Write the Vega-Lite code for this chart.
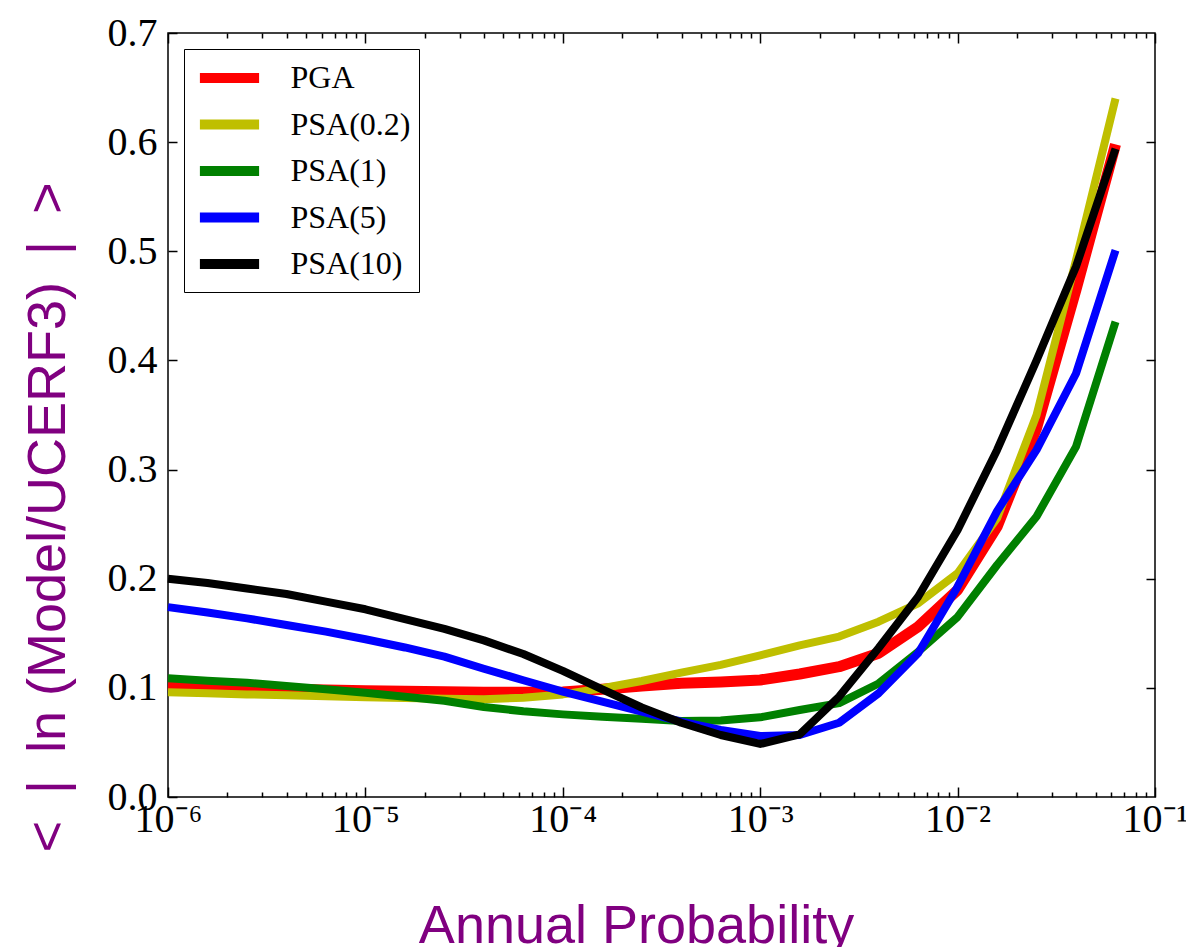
{
  "$schema": "https://vega.github.io/schema/vega-lite/v6.json",
  "width": 987,
  "height": 764,
  "autosize": "none",
  "padding": {"left": 168, "top": 33, "right": 31, "bottom": 150},
  "background": "white",
  "config": {
    "view": {"stroke": "black", "strokeWidth": 1.5},
    "axis": {"grid": false, "domain": false, "tickColor": "black", "tickWidth": 1.5}
  },
  "data": {
    "values": [
      {"p": 1e-6, "s": "PGA", "v": 0.1026}, {"p": 1.585e-6, "s": "PGA", "v": 0.101}, {"p": 2.512e-6, "s": "PGA", "v": 0.0996}, {"p": 3.981e-6, "s": "PGA", "v": 0.0987}, {"p": 6.31e-6, "s": "PGA", "v": 0.098},
      {"p": 1e-5, "s": "PGA", "v": 0.0974}, {"p": 1.585e-5, "s": "PGA", "v": 0.0968}, {"p": 2.512e-5, "s": "PGA", "v": 0.0965}, {"p": 3.981e-5, "s": "PGA", "v": 0.096}, {"p": 6.31e-5, "s": "PGA", "v": 0.096},
      {"p": 1e-4, "s": "PGA", "v": 0.0962}, {"p": 1.585e-4, "s": "PGA", "v": 0.0987}, {"p": 2.512e-4, "s": "PGA", "v": 0.1017}, {"p": 3.981e-4, "s": "PGA", "v": 0.1042}, {"p": 6.31e-4, "s": "PGA", "v": 0.1054},
      {"p": 1e-3, "s": "PGA", "v": 0.1072}, {"p": 1.585e-3, "s": "PGA", "v": 0.1127}, {"p": 2.512e-3, "s": "PGA", "v": 0.1194}, {"p": 3.981e-3, "s": "PGA", "v": 0.1317}, {"p": 6.31e-3, "s": "PGA", "v": 0.156},
      {"p": 1e-2, "s": "PGA", "v": 0.1897}, {"p": 1.585e-2, "s": "PGA", "v": 0.2477}, {"p": 2.512e-2, "s": "PGA", "v": 0.338}, {"p": 3.981e-2, "s": "PGA", "v": 0.465}, {"p": 6.31e-2, "s": "PGA", "v": 0.598},

      {"p": 1e-6, "s": "PSA(0.2)", "v": 0.096}, {"p": 1.585e-6, "s": "PSA(0.2)", "v": 0.095}, {"p": 2.512e-6, "s": "PSA(0.2)", "v": 0.094}, {"p": 3.981e-6, "s": "PSA(0.2)", "v": 0.0932}, {"p": 6.31e-6, "s": "PSA(0.2)", "v": 0.0922},
      {"p": 1e-5, "s": "PSA(0.2)", "v": 0.0913}, {"p": 1.585e-5, "s": "PSA(0.2)", "v": 0.0907}, {"p": 2.512e-5, "s": "PSA(0.2)", "v": 0.09}, {"p": 3.981e-5, "s": "PSA(0.2)", "v": 0.0895}, {"p": 6.31e-5, "s": "PSA(0.2)", "v": 0.091},
      {"p": 1e-4, "s": "PSA(0.2)", "v": 0.094}, {"p": 1.585e-4, "s": "PSA(0.2)", "v": 0.0996}, {"p": 2.512e-4, "s": "PSA(0.2)", "v": 0.1063}, {"p": 3.981e-4, "s": "PSA(0.2)", "v": 0.114}, {"p": 6.31e-4, "s": "PSA(0.2)", "v": 0.121},
      {"p": 1e-3, "s": "PSA(0.2)", "v": 0.1298}, {"p": 1.585e-3, "s": "PSA(0.2)", "v": 0.139}, {"p": 2.512e-3, "s": "PSA(0.2)", "v": 0.147}, {"p": 3.981e-3, "s": "PSA(0.2)", "v": 0.1606}, {"p": 6.31e-3, "s": "PSA(0.2)", "v": 0.1775},
      {"p": 1e-2, "s": "PSA(0.2)", "v": 0.205}, {"p": 1.585e-2, "s": "PSA(0.2)", "v": 0.2554}, {"p": 2.512e-2, "s": "PSA(0.2)", "v": 0.35}, {"p": 3.981e-2, "s": "PSA(0.2)", "v": 0.492}, {"p": 6.31e-2, "s": "PSA(0.2)", "v": 0.64},

      {"p": 1e-6, "s": "PSA(1)", "v": 0.1087}, {"p": 1.585e-6, "s": "PSA(1)", "v": 0.1066}, {"p": 2.512e-6, "s": "PSA(1)", "v": 0.1047}, {"p": 3.981e-6, "s": "PSA(1)", "v": 0.1017}, {"p": 6.31e-6, "s": "PSA(1)", "v": 0.0987},
      {"p": 1e-5, "s": "PSA(1)", "v": 0.0956}, {"p": 1.585e-5, "s": "PSA(1)", "v": 0.0919}, {"p": 2.512e-5, "s": "PSA(1)", "v": 0.0882}, {"p": 3.981e-5, "s": "PSA(1)", "v": 0.0825}, {"p": 6.31e-5, "s": "PSA(1)", "v": 0.0785},
      {"p": 1e-4, "s": "PSA(1)", "v": 0.0757}, {"p": 1.585e-4, "s": "PSA(1)", "v": 0.0736}, {"p": 2.512e-4, "s": "PSA(1)", "v": 0.0718}, {"p": 3.981e-4, "s": "PSA(1)", "v": 0.0697}, {"p": 6.31e-4, "s": "PSA(1)", "v": 0.07},
      {"p": 1e-3, "s": "PSA(1)", "v": 0.073}, {"p": 1.585e-3, "s": "PSA(1)", "v": 0.0797}, {"p": 2.512e-3, "s": "PSA(1)", "v": 0.086}, {"p": 3.981e-3, "s": "PSA(1)", "v": 0.104}, {"p": 6.31e-3, "s": "PSA(1)", "v": 0.133},
      {"p": 1e-2, "s": "PSA(1)", "v": 0.165}, {"p": 1.585e-2, "s": "PSA(1)", "v": 0.2126}, {"p": 2.512e-2, "s": "PSA(1)", "v": 0.257}, {"p": 3.981e-2, "s": "PSA(1)", "v": 0.321}, {"p": 6.31e-2, "s": "PSA(1)", "v": 0.4355},

      {"p": 1e-6, "s": "PSA(5)", "v": 0.174}, {"p": 1.585e-6, "s": "PSA(5)", "v": 0.169}, {"p": 2.512e-6, "s": "PSA(5)", "v": 0.1637}, {"p": 3.981e-6, "s": "PSA(5)", "v": 0.1576}, {"p": 6.31e-6, "s": "PSA(5)", "v": 0.1515},
      {"p": 1e-5, "s": "PSA(5)", "v": 0.1445}, {"p": 1.585e-5, "s": "PSA(5)", "v": 0.137}, {"p": 2.512e-5, "s": "PSA(5)", "v": 0.1286}, {"p": 3.981e-5, "s": "PSA(5)", "v": 0.1175}, {"p": 6.31e-5, "s": "PSA(5)", "v": 0.107},
      {"p": 1e-4, "s": "PSA(5)", "v": 0.0965}, {"p": 1.585e-4, "s": "PSA(5)", "v": 0.0873}, {"p": 2.512e-4, "s": "PSA(5)", "v": 0.0782}, {"p": 3.981e-4, "s": "PSA(5)", "v": 0.069}, {"p": 6.31e-4, "s": "PSA(5)", "v": 0.0614},
      {"p": 1e-3, "s": "PSA(5)", "v": 0.0559}, {"p": 1.585e-3, "s": "PSA(5)", "v": 0.0568}, {"p": 2.512e-3, "s": "PSA(5)", "v": 0.068}, {"p": 3.981e-3, "s": "PSA(5)", "v": 0.095}, {"p": 6.31e-3, "s": "PSA(5)", "v": 0.1317},
      {"p": 1e-2, "s": "PSA(5)", "v": 0.1927}, {"p": 1.585e-2, "s": "PSA(5)", "v": 0.262}, {"p": 2.512e-2, "s": "PSA(5)", "v": 0.318}, {"p": 3.981e-2, "s": "PSA(5)", "v": 0.388}, {"p": 6.31e-2, "s": "PSA(5)", "v": 0.501},

      {"p": 1e-6, "s": "PSA(10)", "v": 0.2}, {"p": 1.585e-6, "s": "PSA(10)", "v": 0.196}, {"p": 2.512e-6, "s": "PSA(10)", "v": 0.191}, {"p": 3.981e-6, "s": "PSA(10)", "v": 0.186}, {"p": 6.31e-6, "s": "PSA(10)", "v": 0.179},
      {"p": 1e-5, "s": "PSA(10)", "v": 0.172}, {"p": 1.585e-5, "s": "PSA(10)", "v": 0.163}, {"p": 2.512e-5, "s": "PSA(10)", "v": 0.154}, {"p": 3.981e-5, "s": "PSA(10)", "v": 0.1435}, {"p": 6.31e-5, "s": "PSA(10)", "v": 0.131},
      {"p": 1e-4, "s": "PSA(10)", "v": 0.1155}, {"p": 1.585e-4, "s": "PSA(10)", "v": 0.0987}, {"p": 2.512e-4, "s": "PSA(10)", "v": 0.082}, {"p": 3.981e-4, "s": "PSA(10)", "v": 0.068}, {"p": 6.31e-4, "s": "PSA(10)", "v": 0.0568},
      {"p": 1e-3, "s": "PSA(10)", "v": 0.0486}, {"p": 1.585e-3, "s": "PSA(10)", "v": 0.0574}, {"p": 2.512e-3, "s": "PSA(10)", "v": 0.092}, {"p": 3.981e-3, "s": "PSA(10)", "v": 0.1365}, {"p": 6.31e-3, "s": "PSA(10)", "v": 0.1835},
      {"p": 1e-2, "s": "PSA(10)", "v": 0.2446}, {"p": 1.585e-2, "s": "PSA(10)", "v": 0.318}, {"p": 2.512e-2, "s": "PSA(10)", "v": 0.4}, {"p": 3.981e-2, "s": "PSA(10)", "v": 0.486}, {"p": 6.31e-2, "s": "PSA(10)", "v": 0.594}
    ]
  },
  "layer": [
    {
      "mark": {"type": "line", "strokeJoin": "round", "strokeCap": "butt"},
      "encoding": {
        "x": {
          "field": "p", "type": "quantitative",
          "scale": {"type": "log", "domain": [1e-6, 0.1], "nice": false},
          "axis": {
            "orient": "bottom",
            "offset": -10,
            "values": [1e-6, 1e-5, 1e-4, 1e-3, 1e-2, 1e-1],
            "labelExpr": "'10⁻' + ['⁰','¹','²','³','⁴','⁵','⁶'][-round(log(datum.value)/LN10)]",
            "tickSize": 10,
            "labelFont": "Liberation Serif", "labelFontSize": 40, "labelColor": "black",
            "labelPadding": 2, "labelFlush": false, "labelOverlap": false, "labelBound": false,
            "title": "Annual Probability",
            "titleFont": "Liberation Sans", "titleFontSize": 54, "titleFontWeight": "normal", "titleColor": "#800080",
            "titleX": 468, "titleY": 155, "titleBaseline": "alphabetic", "titleAlign": "center"
          }
        },
        "y": {
          "field": "v", "type": "quantitative",
          "scale": {"domain": [0, 0.7], "nice": false, "zero": false},
          "axis": {
            "orient": "left",
            "offset": -9,
            "values": [0, 0.1, 0.2, 0.3, 0.4, 0.5, 0.6, 0.7],
            "format": ".1f",
            "tickSize": 9,
            "labelFont": "Liberation Serif", "labelFontSize": 40, "labelColor": "black",
            "labelPadding": 11, "labelFlush": false, "labelOverlap": false, "labelBound": false,
            "title": "<\u2002|\u2002ln (Model/UCERF3)\u2002|\u2002>",
            "titleFont": "Liberation Sans", "titleFontSize": 54, "titleFontWeight": "normal", "titleColor": "#800080",
            "titleX": -129, "titleY": 484, "titleBaseline": "middle", "titleAlign": "center", "titleAngle": -90
          }
        },
        "color": {
          "field": "s", "type": "nominal",
          "scale": {"domain": ["PGA", "PSA(0.2)", "PSA(1)", "PSA(5)", "PSA(10)"], "range": ["#ff0000", "#bfbf00", "#008000", "#0000ff", "#000000"]},
          "legend": {
            "title": null,
            "orient": "top-left",
            "offset": 16,
            "padding": 8,
            "strokeColor": "black",
            "fillColor": "white",
            "symbolType": "M-1.85,0H1.85",
            "symbolSize": 1024,
            "symbolStrokeWidth": 10,
            "symbolOffset": 16.5,
            "rowPadding": 5.5,
            "labelOffset": 40,
            "labelFont": "Liberation Serif", "labelFontSize": 32, "labelColor": "black"
          }
        },
        "strokeWidth": {"condition": {"test": "datum.s === 'PGA'", "value": 11}, "value": 8}
      }
    },
    {
      "mark": {"type": "line", "opacity": 0},
      "encoding": {
        "x": {
          "field": "p", "type": "quantitative",
          "scale": {"type": "log", "domain": [1e-6, 0.1], "nice": false},
          "axis": {"orient": "top", "offset": -10, "values": [1e-6, 1e-5, 1e-4, 1e-3, 1e-2, 1e-1], "labels": false, "tickSize": 10, "title": null}
        },
        "y": {
          "field": "v", "type": "quantitative",
          "scale": {"domain": [0, 0.7], "nice": false, "zero": false},
          "axis": {"orient": "right", "offset": -9, "values": [0.1, 0.2, 0.3, 0.4, 0.5, 0.6], "labels": false, "tickSize": 9, "title": null}
        },
        "detail": {"field": "s", "type": "nominal"}
      }
    },
    {
      "mark": {"type": "line", "opacity": 0},
      "encoding": {
        "x": {
          "field": "p", "type": "quantitative",
          "scale": {"type": "log", "domain": [1e-6, 0.1], "nice": false},
          "axis": {
            "orient": "bottom", "offset": -5,
            "values": [2e-6, 3e-6, 4e-6, 5e-6, 6e-6, 7e-6, 8e-6, 9e-6, 2e-5, 3e-5, 4e-5, 5e-5, 6e-5, 7e-5, 8e-5, 9e-5, 2e-4, 3e-4, 4e-4, 5e-4, 6e-4, 7e-4, 8e-4, 9e-4, 2e-3, 3e-3, 4e-3, 5e-3, 6e-3, 7e-3, 8e-3, 9e-3, 2e-2, 3e-2, 4e-2, 5e-2, 6e-2, 7e-2, 8e-2, 9e-2],
            "labels": false, "tickSize": 5, "title": null
          }
        },
        "y": {"field": "v", "type": "quantitative", "scale": {"domain": [0, 0.7], "nice": false, "zero": false}, "axis": null},
        "detail": {"field": "s", "type": "nominal"}
      }
    },
    {
      "mark": {"type": "line", "opacity": 0},
      "encoding": {
        "x": {
          "field": "p", "type": "quantitative",
          "scale": {"type": "log", "domain": [1e-6, 0.1], "nice": false},
          "axis": {
            "orient": "top", "offset": -5,
            "values": [2e-6, 3e-6, 4e-6, 5e-6, 6e-6, 7e-6, 8e-6, 9e-6, 2e-5, 3e-5, 4e-5, 5e-5, 6e-5, 7e-5, 8e-5, 9e-5, 2e-4, 3e-4, 4e-4, 5e-4, 6e-4, 7e-4, 8e-4, 9e-4, 2e-3, 3e-3, 4e-3, 5e-3, 6e-3, 7e-3, 8e-3, 9e-3, 2e-2, 3e-2, 4e-2, 5e-2, 6e-2, 7e-2, 8e-2, 9e-2],
            "labels": false, "tickSize": 5, "title": null
          }
        },
        "y": {"field": "v", "type": "quantitative", "scale": {"domain": [0, 0.7], "nice": false, "zero": false}, "axis": null},
        "detail": {"field": "s", "type": "nominal"}
      }
    }
  ],
  "resolve": {"axis": {"x": "independent", "y": "independent"}}
}
